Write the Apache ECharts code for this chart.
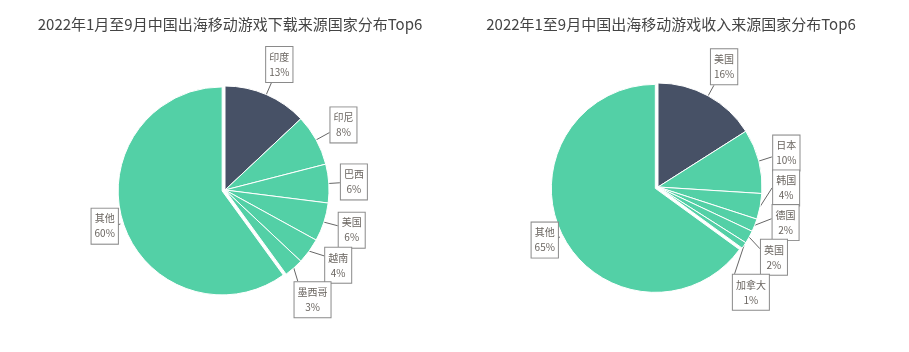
<!DOCTYPE html>
<html lang="zh">
<head>
    <meta charset="UTF-8">
    <title>中国出海移动游戏来源国家分布</title>
    <script src="https://cdn.jsdelivr.net/npm/echarts@6/dist/echarts.min.js"></script>
    <style>
        html, body { margin: 0; padding: 0; background: #fff; }
        #chart { width: 909px; height: 352px; }
    </style>
</head>
<body>
<div id="chart"></div>
<script>
    // 下载来源
    var dlNames = ['印度', '印尼', '巴西', '美国', '越南', '墨西哥', '其他'];
    var dlValues = [13, 8, 6, 6, 4, 3, 60];
    // 收入来源
    var revNames = ['美国', '日本', '韩国', '德国', '英国', '加拿大', '其他'];
    var revValues = [16, 10, 4, 2, 2, 1, 65];

    var dark = '#475166';
    var green = '#53d0a6';
    var R = 104;
    var GAP = 10;
    var labelFont = '10px "Noto Sans CJK SC"';

    var ctx = document.createElement('canvas').getContext('2d');
    ctx.font = labelFont;

    function toData(names, values) {
        return names.map(function (n, i) {
            var item = {name: n, value: values[i]};
            item.itemStyle = {color: i === 0 ? dark : green};
            if (n === '其他') item.selected = true;
            return item;
        });
    }

    // 标签框位置：沿扇区中线放在饼外侧，相互重叠时沿圆周推开
    function boxAt(cx, cy, a, w, h) {
        var ux = Math.sin(a), uy = -Math.cos(a);
        var half = Math.abs(ux) * w / 2 + Math.abs(uy) * h / 2;
        var d = R + GAP + half;
        return {x: cx + ux * d, y: cy + uy * d, w: w, h: h, ux: ux, uy: uy};
    }
    function overlap(a, b, m) {
        return Math.abs(a.x - b.x) < (a.w + b.w) / 2 - m && Math.abs(a.y - b.y) < (a.h + b.h) / 2 - m;
    }
    function labelPositions(cx, cy, names, values) {
        var total = values.reduce(function (s, v) { return s + v; }, 0);
        var acc = 0, mids = [], sizes = [];
        values.forEach(function (v, i) {
            mids.push((acc + v / 2) / total * Math.PI * 2);
            acc += v;
            var pct = Math.round(v / total * 100) + '%';
            var tw = Math.max(ctx.measureText(names[i]).width, ctx.measureText(pct).width);
            sizes.push([Math.ceil(tw) + 8, 37]);
        });
        var ang = mids.slice();
        var step = 0.4 * Math.PI / 180;
        for (var it = 0; it < 200; it++) {
            var moved = false;
            for (var i = 0; i < ang.length - 1; i++) {
                var b1 = boxAt(cx, cy, ang[i], sizes[i][0], sizes[i][1]);
                var b2 = boxAt(cx, cy, ang[i + 1], sizes[i + 1][0], sizes[i + 1][1]);
                if (overlap(b1, b2, 3)) {
                    ang[i] -= step;
                    ang[i + 1] += step;
                    moved = true;
                }
            }
            if (!moved) break;
        }
        return ang.map(function (a, i) {
            var b = boxAt(cx, cy, a, sizes[i][0], sizes[i][1]);
            var off = names[i] === '其他' ? 3 : 0;
            var m = mids[i];
            var start = [cx + Math.sin(m) * (R + off), cy - Math.cos(m) * (R + off)];
            var t = Math.min(
                Math.abs(b.ux) > 1e-6 ? b.w / 2 / Math.abs(b.ux) : 1e9,
                Math.abs(b.uy) > 1e-6 ? b.h / 2 / Math.abs(b.uy) : 1e9
            );
            return {x: b.x, y: b.y, line: [start, [b.x - b.ux * t, b.y - b.uy * t]]};
        });
    }

    function pieSeries(cx, cy, names, values) {
        var pos = labelPositions(cx, cy, names, values);
        return {
            type: 'pie',
            center: [cx, cy],
            radius: R,
            startAngle: 90,
            selectedMode: 'single',
            selectedOffset: 3,
            avoidLabelOverlap: false,
            itemStyle: {borderColor: '#fff', borderWidth: 1},
            label: {
                formatter: '{b}\n{d}%',
                color: '#6a6560',
                fontSize: 10,
                fontFamily: 'Noto Sans CJK SC',
                lineHeight: 15,
                backgroundColor: '#fff',
                borderColor: '#8a8a8a',
                borderWidth: 1,
                padding: [3, 3, 2, 3]
            },
            labelLine: {
                length: 10,
                length2: 4,
                lineStyle: {color: '#666', width: 1}
            },
            labelLayout: function (params) {
                var p = pos[params.dataIndex];
                return {
                    x: p.x, y: p.y, align: 'center', verticalAlign: 'middle',
                    labelLinePoints: p.line
                };
            },
            emphasis: {scale: false},
            data: toData(names, values)
        };
    }

    var chart = echarts.init(document.getElementById('chart'));
    chart.setOption({
        animation: false,
        title: [
            {
                text: '2022年1月至9月中国出海移动游戏下载来源国家分布Top6',
                left: 225, top: 12, textAlign: 'center',
                textStyle: {fontSize: 15, fontWeight: 'normal', color: '#444', fontFamily: 'Noto Sans CJK SC'}
            },
            {
                text: '2022年1至9月中国出海移动游戏收入来源国家分布Top6',
                left: 666, top: 12, textAlign: 'center',
                textStyle: {fontSize: 15, fontWeight: 'normal', color: '#444', fontFamily: 'Noto Sans CJK SC'}
            }
        ],
        series: [
            pieSeries(225, 190, dlNames, dlValues),
            pieSeries(658, 187, revNames, revValues)
        ]
    });
</script>
</body>
</html>
